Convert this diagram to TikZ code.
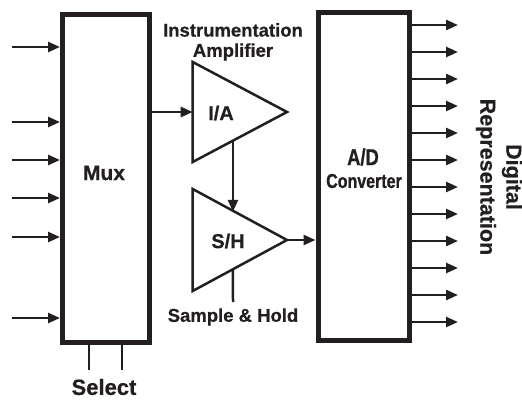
\documentclass[tikz,border=0pt]{standalone}
\usepackage{fontspec}
\setmainfont{Liberation Sans}
\newfontfamily\labfont[FakeBold=0.6]{Liberation Sans Bold}
\newfontfamily\condfont[FakeStretch=0.8,FakeBold=0.8]{Liberation Sans Bold}
\usetikzlibrary{arrows.meta,calc}
\definecolor{ink}{HTML}{231F20}
\begin{document}
\begin{tikzpicture}[x=1pt,y=-1pt,
  bigbox/.style={draw=ink,line width=5pt,rectangle,inner sep=0pt,fill=white},
  sig/.style={draw=ink,line width=2.5pt,-{Triangle[length=12pt,width=10pt]}},
  wire/.style={draw=ink,line width=2.5pt},
  amp/.style={draw=ink,line width=2.5pt,line join=miter},
  lbl/.style={color=ink,font=\labfont\fontsize{18.5}{21}\selectfont,inner sep=0pt,align=center},
  biglbl/.style={color=ink,font=\labfont\fontsize{21}{24}\selectfont,inner sep=0pt,align=center},
  condlbl/.style={color=ink,inner sep=0pt,align=center}]
\useasboundingbox (0,0) rectangle (522,399);
% Mux and ADC
\node[bigbox,minimum width=87pt,minimum height=327.5pt] (mux) at (106,178.25) {};
\node[bigbox,minimum width=91.5pt,minimum height=328pt] (adc) at (363.75,176) {};
\node[biglbl] (muxl) at (104,173) {Mux};
\node[condlbl,font=\condfont\fontsize{23}{26}\selectfont] (adl) at (363,157) {A/D};
\node[condlbl,font=\condfont\fontsize{20}{24}\selectfont] (convl) at (364,181) {Converter};
% inputs
\foreach \y [count=\i] in {47,122,160,198,237,318} {
  \coordinate (in\i) at (12,\y);
  \draw[sig] (in\i) -- (in\i -| mux.west);
}
% outputs
\foreach \y [count=\i] in {25,52,79,106,133,160,187,214,241,268,295,322} {
  \coordinate (out\i) at (458,\y);
  \draw[sig] (out\i -| adc.east) -- (out\i);
}
% I/A triangle
\coordinate (iaT) at (192.7,62);
\coordinate (iaB) at (192.7,162);
\coordinate (iaA) at (287,112);
\draw[amp] (iaT) -- (iaA) -- (iaB) -- cycle;
\node[lbl,font=\labfont\fontsize{20}{24}\selectfont] (ia) at (221,113) {I/A};
% S/H triangle
\coordinate (shT) at (192.7,189);
\coordinate (shB) at (192.7,291);
\coordinate (shA) at (287,240);
\draw[amp] (shT) -- (shA) -- (shB) -- cycle;
\node[lbl,font=\labfont\fontsize{20}{24}\selectfont] (sh) at (228,241) {S/H};
% connectors
\coordinate (iaIn) at (192.7,112);
\draw[sig] (iaIn -| mux.east) -- (iaIn);
\coordinate (iaOut) at ($(iaB)!0.427!(iaA)$);
\coordinate (shIn) at ($(shT)!0.427!(shA)$);
\draw[sig,shorten >=-1pt] (iaOut) -- (shIn);
\coordinate (shCtl) at ($(shB)!0.427!(shA)$);
\coordinate (shCtlEnd) at (233,302);
\draw[wire] (shCtl) -- (shCtlEnd);
\draw[sig] (shA) -- (shA -| adc.west);
% select
\coordinate (sel1) at (89,370);
\coordinate (sel2) at (122,370);
\draw[wire] (sel1 |- mux.south) -- (sel1);
\draw[wire] (sel2 |- mux.south) -- (sel2);
% labels
\node[lbl,font=\labfont\fontsize{22}{24}\selectfont] (sel) at (104,387) {Select};
\node[lbl] (inst) at (233,30) {Instrumentation};
\node[lbl] (ampl) at (233,52) {Amplifier};
\node[lbl] (shl) at (233,317) {Sample \& Hold};
\node[lbl,font=\labfont\fontsize{21.5}{26}\selectfont,rotate=-90] (dig) at (499,177) {Digital\\Representation};
\end{tikzpicture}
\end{document}
